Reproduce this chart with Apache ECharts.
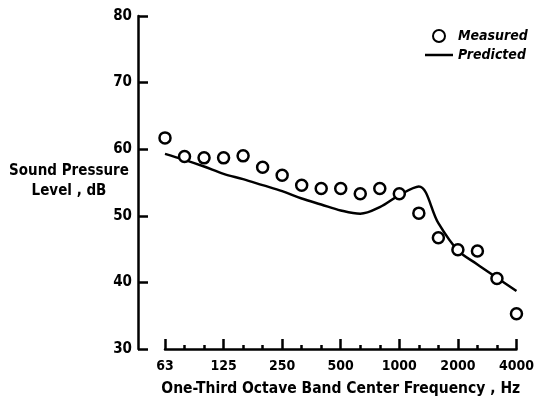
<!DOCTYPE html>
<html>
<head>
<meta charset="utf-8">
<script src="https://cdn.jsdelivr.net/npm/echarts@6/dist/echarts.min.js"></script>
<style>
  html, body { margin: 0; padding: 0; background: #fff; }
  #chart { width: 537px; height: 402px; }
</style>
</head>
<body>
<div id="chart"></div>
<script>
// One-third octave band centre frequencies (Hz)
const bands = ['63', '80', '100', '125', '160', '200', '250', '315', '400', '500',
               '630', '800', '1000', '1250', '1600', '2000', '2500', '3150', '4000'];
// Octave bands that carry a label
const labelledBands = ['63', '125', '250', '500', '1000', '2000', '4000'];
// Measured sound pressure level, dB
const measured = [61.7, 58.9, 58.7, 58.7, 59.0, 57.3, 56.1, 54.6, 54.1, 54.1,
                  53.3, 54.1, 53.3, 50.4, 46.7, 44.9, 44.7, 40.6, 35.3];
// Predicted sound pressure level, dB
const predicted = [59.3, 58.4, 57.4, 56.3, 55.5, 54.6, 53.7, 52.6, 51.7, 50.8,
                   50.3, 51.3, 53.1, 54.4, 48.9, 44.8, 42.7, 40.7, 38.7];
// Y axis range and step
const yMin = 30, yMax = 80, yStep = 10;

const FONT = '"DejaVu Sans Condensed", "DejaVu Sans", sans-serif';
const chart = echarts.init(document.getElementById('chart'));

chart.setOption({
  animation: false,
  backgroundColor: '#ffffff',
  grid: { left: 165, right: 15, top: 16, bottom: 50 },
  legend: {
    orient: 'vertical',
    left: 420,
    top: 24,
    itemGap: 5,
    itemWidth: 28,
    itemHeight: 12,
    textStyle: { fontFamily: FONT, fontWeight: 'bold', fontStyle: 'italic', fontSize: 14, color: '#000' },
    data: [
      { name: 'Measured', icon: 'circle' },
      { name: 'Predicted', icon: 'path://M0,0 L28,0 L28,2.5 L0,2.5 Z' }
    ]
  },
  xAxis: [
    {
      type: 'category',
      data: bands,
      boundaryGap: false,
      name: 'One-Third Octave Band Center Frequency , Hz',
      nameLocation: 'middle',
      nameGap: 32,
      nameTextStyle: { fontFamily: FONT, fontWeight: 'bold', fontSize: 15.5, color: '#000' },
      axisLine: { show: true, lineStyle: { color: '#000', width: 2.5 } },
      axisTick: {
        show: true, inside: true, length: 10,
        interval: (i, v) => labelledBands.includes(v),
        lineStyle: { color: '#000', width: 2.5 }
      },
      axisLabel: {
        interval: (i, v) => labelledBands.includes(v),
        margin: 10,
        fontFamily: FONT, fontWeight: 'bold', fontSize: 14, color: '#000'
      },
      splitLine: { show: false }
    },
    {
      type: 'category',
      data: bands,
      boundaryGap: false,
      position: 'bottom',
      axisLine: { show: false },
      axisLabel: { show: false },
      splitLine: { show: false },
      axisTick: {
        show: true, inside: true, length: 4, interval: 0,
        lineStyle: { color: '#000', width: 2.5 }
      }
    }
  ],
  yAxis: {
    type: 'value',
    min: yMin,
    max: yMax,
    interval: yStep,
    offset: 27,
    axisLine: { show: true, lineStyle: { color: '#000', width: 2.5 } },
    axisTick: { show: true, inside: true, length: 10, lineStyle: { color: '#000', width: 2.5 } },
    axisLabel: { margin: 6, fontFamily: FONT, fontWeight: 'bold', fontSize: 15, color: '#000' },
    splitLine: { show: false }
  },
  graphic: [
    {
      type: 'text',
      style: {
        text: 'Sound Pressure\nLevel , dB',
        x: 69, y: 181,
        align: 'center', verticalAlign: 'middle',
        lineHeight: 20,
        font: 'bold 15px ' + FONT,
        fill: '#000'
      }
    }
  ],
  series: [
    {
      name: 'Predicted',
      type: 'line',
      data: predicted,
      smooth: 0.35,
      showSymbol: false,
      z: 2,
      lineStyle: { color: '#000', width: 2.5 },
      itemStyle: { color: '#000' }
    },
    {
      name: 'Measured',
      type: 'scatter',
      data: measured,
      symbol: 'circle',
      symbolSize: 11,
      z: 3,
      itemStyle: { color: '#fff', borderColor: '#000', borderWidth: 2.5, opacity: 1 }
    }
  ]
});
</script>
</body>
</html>
